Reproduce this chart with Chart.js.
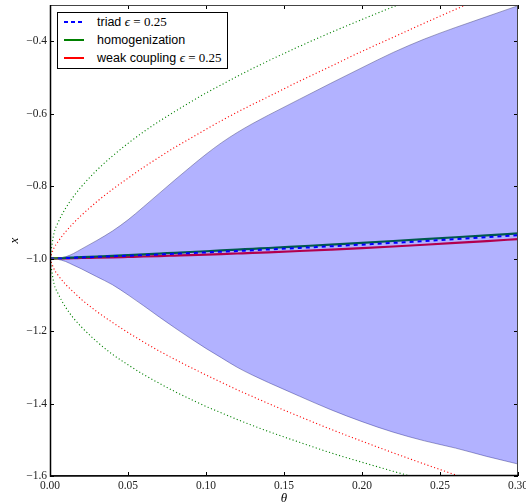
<!DOCTYPE html>
<html>
<head>
<meta charset="utf-8">
<script src="https://cdn.jsdelivr.net/npm/chart.js@4.4.0/dist/chart.umd.min.js"></script>
<style>
  html, body { margin: 0; padding: 0; background: #fff; }
  #wrap { position: relative; width: 526px; height: 504px; }
  #legend {
    position: absolute; left: 57px; top: 12px; width: 171px; height: 57px;
    box-sizing: border-box; border: 1px solid #000; background: #fff;
    font-family: "Liberation Sans", Arial, sans-serif; font-size: 12.5px; color: #000;
  }
  .row { position: absolute; left: 0; height: 16px; line-height: 16px; white-space: nowrap; }
  .row svg { position: absolute; left: 5px; top: 0; }
  .row span.lab { position: absolute; left: 39px; top: 0; }
  .m { font-family: "Liberation Serif", "DejaVu Serif", serif; font-size: 13px; }
  .m i { font-style: italic; }
</style>
</head>
<body>
<div id="wrap">
  <canvas id="chart" width="526" height="504"></canvas>
  <div id="legend">
    <div class="row" style="top:1px">
      <svg width="24" height="16"><line x1="1" y1="8" x2="21" y2="8" stroke="#0000ff" stroke-width="2" stroke-dasharray="4,3"/></svg>
      <span class="lab">triad <span class="m"><i>ϵ</i> = 0.25</span></span>
    </div>
    <div class="row" style="top:19px">
      <svg width="24" height="16"><line x1="1" y1="8" x2="21" y2="8" stroke="#008000" stroke-width="2"/></svg>
      <span class="lab">homogenization</span>
    </div>
    <div class="row" style="top:37px">
      <svg width="24" height="16"><line x1="1" y1="8" x2="21" y2="8" stroke="#ff0000" stroke-width="2"/></svg>
      <span class="lab">weak coupling <span class="m"><i>ϵ</i> = 0.25</span></span>
    </div>
  </div>
</div>
<script>
// ---- data ----
const theta = [0, 0.0025, 0.005, 0.01, 0.015, 0.02, 0.03, 0.04, 0.05, 0.06, 0.07, 0.08, 0.09,
  0.10, 0.11, 0.12, 0.13, 0.14, 0.16, 0.18, 0.20, 0.22, 0.24, 0.26, 0.28, 0.30];

const bandUpper = [-1.0, -0.9998, -0.999, -0.995, -0.986, -0.974, -0.950, -0.924, -0.893, -0.857, -0.820, -0.783, -0.747,
  -0.712, -0.680, -0.652, -0.627, -0.604, -0.560, -0.516, -0.473, -0.431, -0.394, -0.362, -0.332, -0.302];
const bandLower = [-1.0, -1.0005, -1.002, -1.008, -1.018, -1.028, -1.050, -1.072, -1.100, -1.130, -1.161, -1.191, -1.220,
  -1.248, -1.274, -1.300, -1.322, -1.342, -1.380, -1.417, -1.450, -1.479, -1.503, -1.523, -1.546, -1.567];

const homUpper = [-1.0, -0.931, -0.902, -0.861, -0.829, -0.802, -0.756, -0.717, -0.682, -0.650, -0.621, -0.594, -0.568,
  -0.543, -0.520, -0.497, -0.475, -0.454, -0.414, -0.376, -0.340, -0.305, -0.271, -0.239, -0.208, -0.178];
const homLower = [-1.0, -1.068, -1.095, -1.134, -1.164, -1.188, -1.229, -1.264, -1.293, -1.320, -1.344, -1.367, -1.388,
  -1.408, -1.426, -1.444, -1.461, -1.477, -1.507, -1.536, -1.562, -1.587, -1.611, -1.633, -1.654, -1.675];

const weakUpper = [-1.0, -0.971, -0.954, -0.926, -0.902, -0.881, -0.843, -0.809, -0.778, -0.748, -0.720, -0.693, -0.668,
  -0.643, -0.619, -0.596, -0.574, -0.553, -0.510, -0.469, -0.428, -0.389, -0.350, -0.312, -0.275, -0.240];
const weakLower = [-1.0, -1.028, -1.045, -1.071, -1.092, -1.112, -1.146, -1.176, -1.204, -1.230, -1.255, -1.278, -1.300,
  -1.321, -1.342, -1.362, -1.381, -1.400, -1.436, -1.471, -1.504, -1.536, -1.567, -1.597, -1.626, -1.654];

const triadMean = [-1.0, -0.9996, -0.9992, -0.9985, -0.9977, -0.9969, -0.9953, -0.9937, -0.9920, -0.9902, -0.9884, -0.9866, -0.9848,
  -0.9829, -0.9809, -0.9789, -0.9769, -0.9748, -0.9705, -0.9660, -0.9614, -0.9566, -0.9516, -0.9465, -0.9411, -0.9357];
const homMean = [-1.0, -0.9995, -0.9990, -0.9981, -0.9971, -0.9961, -0.9942, -0.9922, -0.9902, -0.9881, -0.9860, -0.9839, -0.9818,
  -0.9796, -0.9774, -0.9752, -0.9729, -0.9707, -0.9660, -0.9613, -0.9564, -0.9514, -0.9463, -0.9411, -0.9358, -0.9304];
const weakMean = [-1.0, -0.9998, -0.9996, -0.9992, -0.9988, -0.9983, -0.9974, -0.9964, -0.9953, -0.9942, -0.9930, -0.9917, -0.9904,
  -0.9890, -0.9875, -0.9859, -0.9843, -0.9826, -0.9790, -0.9751, -0.9710, -0.9665, -0.9618, -0.9568, -0.9515, -0.9460];

const xTicks = [0, 0.05, 0.10, 0.15, 0.20, 0.25, 0.30];
const yTicks = [-1.6, -1.4, -1.2, -1.0, -0.8, -0.6, -0.4];

// -------------------------------------------------------------
const pts = (ys) => theta.map((t, i) => ({ x: t, y: ys[i] }));
const fmt = (v, d) => (v < 0 ? "\u2212" : "") + Math.abs(v).toFixed(d);

function line(data, color, width, dash, extra) {
  return Object.assign({
    data: pts(data), borderColor: color, borderWidth: width, borderDash: dash || [],
    pointRadius: 0, fill: false, cubicInterpolationMode: "monotone",
  }, extra || {});
}

// frame + inward ticks on all four sides, matplotlib style
const frameTicks = {
  id: "frameTicks",
  afterDatasetsDraw(chart) {
    const { ctx, chartArea: a, scales: { x, y } } = chart;
    ctx.save();
    ctx.strokeStyle = "#000";
    ctx.lineWidth = 1;
    ctx.beginPath();
    xTicks.forEach((v) => {
      const px = Math.round(x.getPixelForValue(v)) + 0.5;
      ctx.moveTo(px, a.bottom); ctx.lineTo(px, a.bottom - 4);
      ctx.moveTo(px, a.top); ctx.lineTo(px, a.top + 4);
    });
    yTicks.forEach((v) => {
      const py = Math.round(y.getPixelForValue(v)) + 0.5;
      ctx.moveTo(a.left, py); ctx.lineTo(a.left + 4, py);
      ctx.moveTo(a.right, py); ctx.lineTo(a.right - 4, py);
    });
    ctx.stroke();
    ctx.strokeStyle = "#444";
    ctx.strokeRect(Math.round(a.left) + 0.5, Math.round(a.top) + 0.5,
      Math.round(a.right - a.left) - 1, Math.round(a.bottom - a.top) - 1);
    ctx.strokeStyle = "#000";
    ctx.lineWidth = 1.5;
    ctx.beginPath();
    ctx.moveTo(a.left + 0.5, a.top); ctx.lineTo(a.left + 0.5, a.bottom);
    ctx.lineTo(a.right, a.bottom - 0.5);
    ctx.stroke();
    ctx.restore();
  },
};

const tickFont = { family: "'Liberation Serif', 'DejaVu Serif', serif", size: 11.5 };

new Chart(document.getElementById("chart"), {
  type: "line",
  data: {
    datasets: [
      line(bandUpper, "rgba(90,90,140,0.55)", 1, [], { fill: "+1", backgroundColor: "rgba(0,0,255,0.3)" }),
      line(bandLower, "rgba(90,90,140,0.55)", 1),
      line(homUpper, "#008000", 1.1, [1.1, 2.4]),
      line(homLower, "#008000", 1.1, [1.1, 2.4]),
      line(weakUpper, "#ff0000", 1.1, [1.1, 2.4]),
      line(weakLower, "#ff0000", 1.1, [1.1, 2.4]),
      line(triadMean, "#0000ff", 2, [4, 4]),
      line(homMean, "#008000", 2.2),
      line(weakMean, "#ff0000", 2.2),
    ],
  },
  options: {
    responsive: false,
    animation: false,
    layout: { padding: { top: 5, right: 8, left: 0, bottom: 0 } },
    plugins: { legend: { display: false }, tooltip: { enabled: false } },
    scales: {
      x: {
        type: "linear", min: 0, max: 0.3,
        grid: { display: false, drawTicks: false },
        border: { display: false },
        afterBuildTicks: (s) => { s.ticks = xTicks.map((v) => ({ value: v })); },
        afterFit: (s) => { s.height = 28; s.paddingLeft = 0; s.paddingRight = 0; },
        ticks: { padding: 3, color: "#222", font: tickFont, maxRotation: 0, autoSkip: false,
          callback: (v) => fmt(v, 2) },
        title: { display: true, text: "\u03b8", color: "#000", padding: { top: 0, bottom: -2 },
          font: { family: "'Liberation Serif', serif", size: 13, style: "italic" } },
      },
      y: {
        type: "linear", min: -1.6, max: -0.3,
        grid: { display: false, drawTicks: false },
        border: { display: false },
        afterBuildTicks: (s) => { s.ticks = yTicks.map((v) => ({ value: v })); },
        afterFit: (s) => { s.width = 50; s.paddingTop = 0; s.paddingBottom = 0; },
        ticks: { padding: 3, color: "#222", font: tickFont, autoSkip: false,
          callback: (v) => fmt(v, 1) },
        title: { display: true, text: "x", color: "#000", padding: { top: 7, bottom: 0 },
          font: { family: "'Liberation Serif', serif", size: 13, style: "italic" } },
      },
    },
  },
  plugins: [frameTicks],
});
</script>
</body>
</html>
